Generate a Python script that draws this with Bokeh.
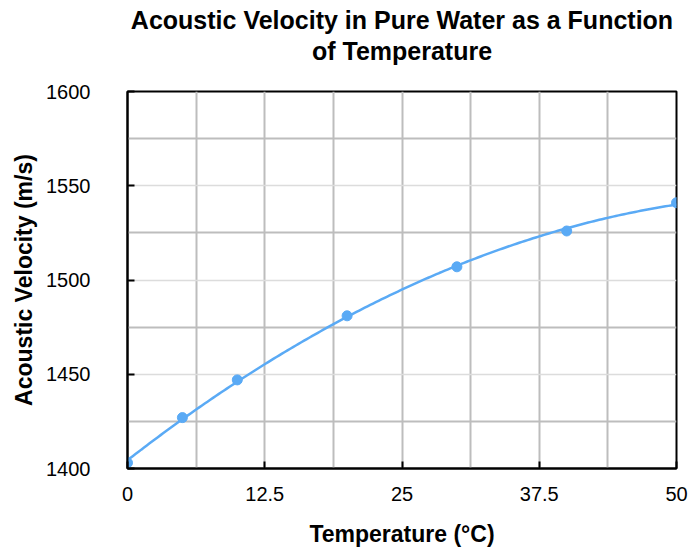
import numpy as np
from bokeh.plotting import figure
from bokeh.models import FixedTicker, Title
from bokeh.embed import file_html
from bokeh.resources import INLINE

temperature = [0, 5, 10, 20, 30, 40, 50]
velocity = [1403, 1427, 1447, 1481, 1507, 1526, 1541]
x_ticks = [0, 12.5, 25, 37.5, 50]
x_minor = [6.25, 18.75, 31.25, 43.75]
y_ticks = [1400, 1450, 1500, 1550, 1600]
y_minor = [1425, 1475, 1525, 1575]
title_lines = ["Acoustic Velocity in Pure Water as a Function", "of Temperature"]

FONT = "Liberation Sans"
BLUE = "#5aaaf5"

p = figure(width=689, height=549, output_backend="svg", toolbar_location=None,
           x_range=(0, 50), y_range=(1400, 1600),
           min_border_left=127, min_border_right=13, min_border_bottom=81, min_border_top=91)

p.title.text = title_lines[0]
p.title.align = "center"
p.title.text_font = FONT
p.title.text_font_size = "25px"
p.title.text_font_style = "bold"
p.title.text_color = "black"
p.title.text_line_height = 1.0
p.title.standoff = 2
p.title.offset = 0

# spacer between the title block and the plot frame (nearest the frame)
spacer = Title(text=" ", text_font_size="1px", standoff=24)
p.add_layout(spacer, "above")

t2 = Title(text=title_lines[1], align="center", text_font=FONT, text_font_size="25px",
           text_font_style="bold", text_color="black", text_line_height=1.0, standoff=0)
p.add_layout(t2, "above")

# fitted trend curve from data
coef = np.polyfit(temperature, velocity, 2)
xs = np.linspace(min(temperature), max(temperature), 200)
ys = np.polyval(coef, xs)
p.line(xs, ys, line_color=BLUE, line_width=2.5)
p.scatter(temperature, velocity, size=10, fill_color=BLUE, line_color=BLUE)

p.xaxis.ticker = FixedTicker(ticks=x_ticks, minor_ticks=x_minor)
p.yaxis.ticker = FixedTicker(ticks=y_ticks, minor_ticks=y_minor)
p.xaxis.major_label_overrides = {0: "0", 12.5: "12.5", 25: "25", 37.5: "37.5", 50: "50"}

for ax in (p.xaxis, p.yaxis):
    ax.axis_line_color = "black"
    ax.axis_line_width = 2
    ax.major_tick_in = 7
    ax.major_tick_out = 0
    ax.major_tick_line_width = 2
    ax.major_tick_line_color = "black"
    ax.minor_tick_line_color = None
    ax.major_label_text_font = FONT
    ax.major_label_text_font_size = "20px"
    ax.major_label_text_color = "black"
    ax.axis_label_text_font = FONT
    ax.axis_label_text_font_size = "23px"
    ax.axis_label_text_font_style = "bold"
    ax.axis_label_text_color = "black"

p.xaxis.axis_label = "Temperature (°C)"
p.yaxis.axis_label = "Acoustic Velocity (m/s)"
p.xaxis.major_label_standoff = 14
p.yaxis.major_label_standoff = 33
p.xaxis.axis_label_standoff = 17
p.yaxis.axis_label_standoff = 6

p.xgrid.grid_line_color = "#bdbdbd"
p.xgrid.grid_line_width = 2
p.xgrid.minor_grid_line_color = "#bdbdbd"
p.xgrid.minor_grid_line_width = 2
p.ygrid.grid_line_color = "#dcdcdc"
p.ygrid.grid_line_width = 1.5
p.ygrid.minor_grid_line_color = "#bdbdbd"
p.ygrid.minor_grid_line_width = 2

p.outline_line_color = "black"
p.outline_line_width = 2
p.background_fill_color = "white"
p.border_fill_color = "white"

open("out.html", "w").write(file_html(p, INLINE))
